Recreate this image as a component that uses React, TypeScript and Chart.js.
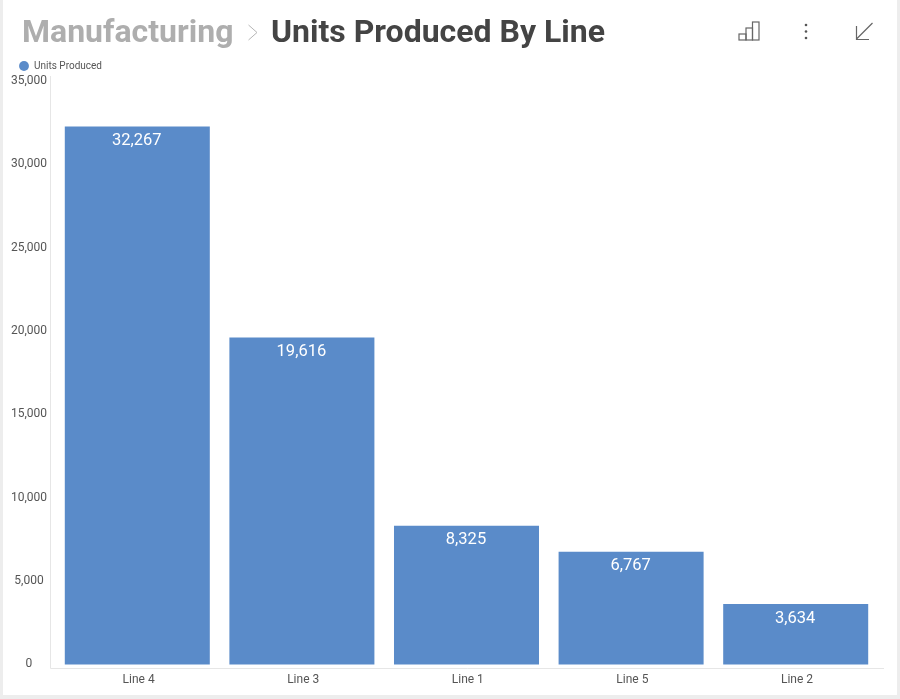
import React, { useEffect, useRef } from "react";
import { Chart, registerables } from "chart.js";

Chart.register(...registerables);

const categories = ["Line 4", "Line 3", "Line 1", "Line 5", "Line 2"];
const unitsProduced = [32267, 19616, 8325, 6767, 3634];
const seriesName = "Units Produced";
const barColor = "#5A8BC9";
const tickColor = "#555555";
const FONT = "Roboto, sans-serif";

const axisLines = {
  id: "axisLines",
  afterDraw(chart: any) {
    const { ctx, chartArea: a } = chart;
    ctx.save();
    ctx.strokeStyle = "#E6E6E6";
    ctx.lineWidth = 1;
    ctx.beginPath();
    ctx.moveTo(50.5, 76);
    ctx.lineTo(50.5, a.bottom);
    ctx.lineTo(884, a.bottom);
    ctx.stroke();
    ctx.restore();
  },
};

const barLabels = {
  id: "barLabels",
  afterDatasetsDraw(chart: any) {
    const { ctx } = chart;
    const meta = chart.getDatasetMeta(0);
    ctx.save();
    ctx.fillStyle = "#FFFFFF";
    ctx.font = `16.5px ${FONT}`;
    ctx.textAlign = "center";
    ctx.textBaseline = "middle";
    meta.data.forEach((bar: any, i: number) => {
      ctx.fillText(unitsProduced[i].toLocaleString("en-US"), bar.x - 0.5, bar.y + 14.5);
    });
    ctx.restore();
  },
};

const legendShift = {
  id: "legendShift",
  afterLayout(chart: any) {
    chart.legend.left += 7;
  },
};

export default function App() {
  const ref = useRef<HTMLCanvasElement>(null);

  useEffect(() => {
    const chart = new Chart(ref.current!, {
      type: "bar",
      data: {
        labels: categories,
        datasets: [
          {
            label: seriesName,
            data: unitsProduced,
            backgroundColor: barColor,
            categoryPercentage: 1,
            barPercentage: 0.881,
          },
        ],
      },
      options: {
        animation: false,
        responsive: false,
        layout: { padding: { left: 8, right: 22, top: 57, bottom: 8 } },
        plugins: {
          tooltip: { enabled: false },
          legend: {
            position: "top",
            align: "start",
            labels: {
              usePointStyle: true,
              pointStyle: "circle",
              boxWidth: 10,
              boxHeight: 7,
              padding: 4,
              color: "#555555",
              font: { family: FONT, size: 10 },
            },
          },
        },
        scales: {
          x: {
            grid: { display: false, drawTicks: false },
            border: { display: false },
            ticks: { color: tickColor, font: { family: FONT, size: 12 }, padding: 4, labelOffset: 1.3 },
            afterFit(s: any) {
              s.height = 22.5;
            },
          },
          y: {
            min: -240,
            max: 35000,
            afterBuildTicks(s: any) {
              s.ticks = [0, 5000, 10000, 15000, 20000, 25000, 30000, 35000].map((value) => ({ value }));
            },
            grid: { display: false, drawTicks: false },
            border: { display: false },
            ticks: {
              color: tickColor,
              font: { family: FONT, size: 12 },
              padding: 8,
              crossAlign: "center",
              autoSkip: false,
            },
            afterFit(s: any) {
              s.width = 47;
            },
          },
        },
      },
      plugins: [axisLines, barLabels, legendShift],
    } as any);
    return () => chart.destroy();
  }, []);

  return (
    <div style={{ position: "fixed", left: 0, top: 0, width: 900, height: 699, background: "#EDEDED", overflow: "hidden" }}>
      <div style={{ position: "absolute", left: 3, top: 0, width: 894, height: 695, background: "#FFFFFF" }} />
      <canvas ref={ref} width={900} height={699} style={{ position: "absolute", left: 0, top: 0, width: 900, height: 699 }} />
      <div style={{ position: "absolute", left: 22, top: 11, fontFamily: FONT, fontWeight: 700, fontSize: 32, lineHeight: "40px", color: "#AEAEAE", whiteSpace: "nowrap" }}>
        Manufacturing
      </div>
      <svg style={{ position: "absolute", left: 247, top: 24 }} width="12" height="18" fill="none" stroke="#B5B5B5" strokeWidth="1">
        <path d="M1.5 1 L10 8.5 L1.5 16" />
      </svg>
      <div style={{ position: "absolute", left: 271, top: 11, fontFamily: FONT, fontWeight: 700, fontSize: 32, lineHeight: "40px", color: "#444444", whiteSpace: "nowrap" }}>
        Units Produced By Line
      </div>
      <svg style={{ position: "absolute", left: 735, top: 18 }} width="30" height="26" fill="none" stroke="#666666" strokeWidth="1.2">
        <rect x="4" y="16" width="7" height="6" />
        <rect x="11" y="10" width="6.5" height="12" />
        <rect x="17.5" y="4" width="6.5" height="18" />
      </svg>
      <svg style={{ position: "absolute", left: 800, top: 22 }} width="12" height="20" fill="#555555">
        <circle cx="6" cy="3" r="1.3" />
        <circle cx="6" cy="9.5" r="1.3" />
        <circle cx="6" cy="16" r="1.3" />
      </svg>
      <svg style={{ position: "absolute", left: 850, top: 18 }} width="28" height="26" fill="none" stroke="#666666" strokeWidth="1.2">
        <path d="M22.5 5 L6.5 21 M6.5 8 L6.5 21.5 L19 21.5" />
      </svg>
    </div>
  );
}
